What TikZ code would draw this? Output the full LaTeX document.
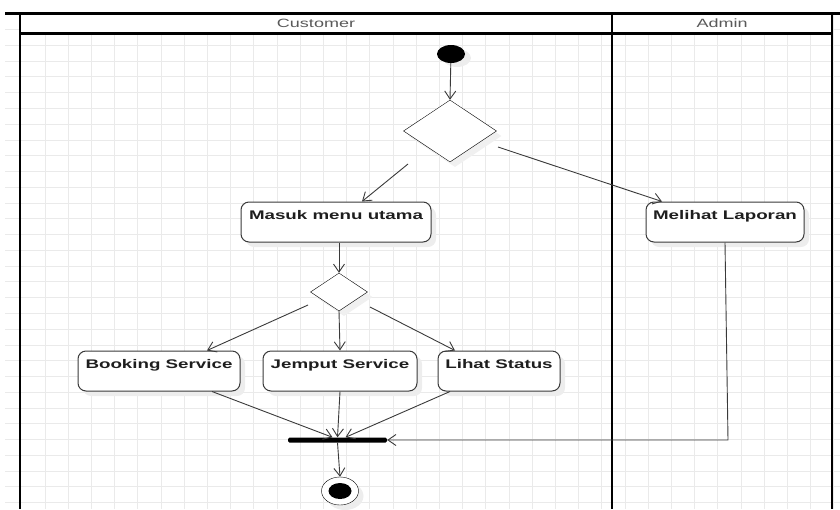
\documentclass[tikz,border=0pt]{standalone}
\usepackage{fontspec}
\newfontfamily\umlfont[FakeStretch=1.5]{Liberation Sans}
\usepackage{tikz}
\usetikzlibrary{positioning,shapes.geometric,shadows,arrows.meta}
\definecolor{gridgray}{HTML}{EAEAEA}
\definecolor{linegray}{HTML}{3A3A3A}
\definecolor{textgray}{HTML}{1E1E1E}

\begin{document}
\begin{tikzpicture}[x=1pt,y=-1pt,
			>={Straight Barb[length=8pt,width=11pt]},
			every node/.style={font=\umlfont\fontsize{12}{14}\selectfont},
			action/.style={draw=linegray, line width=1pt, fill=white, rounded corners=8pt, minimum height=40pt, text height=13pt, text depth=19pt, inner ysep=4pt, inner xsep=0pt, text=textgray, font=\umlfont\bfseries\fontsize{12.5}{14}\selectfont, general shadow={fill=black!7, shadow xshift=5pt, shadow yshift=-5pt}},
			decision/.style={diamond, draw=black, fill=white, inner sep=0pt, general shadow={fill=black!6, shadow xshift=5pt, shadow yshift=-5pt}},
			startnode/.style={ellipse, fill=black, inner sep=0pt, minimum width=28pt, minimum height=18pt, general shadow={fill=black!7, shadow xshift=6pt, shadow yshift=-4pt}},
			endouter/.style={ellipse, draw=black, fill=white, inner sep=0pt, minimum width=37pt, minimum height=28pt, general shadow={fill=black!7, shadow xshift=5pt, shadow yshift=-5pt}},
			endinner/.style={ellipse, fill=black, inner sep=0pt, minimum width=23pt, minimum height=16pt},
			joinbar/.style={rectangle, fill=black, rounded corners=1.5pt, inner sep=0pt, minimum width=99pt, minimum height=5pt},
			flow/.style={->, draw=linegray, line width=0.9pt},
			lane/.style={draw=black, line width=2.5pt},
			lanetitle/.style={text=black!65},
		]

			\useasboundingbox (0,0) rectangle (840,509);

			% background grid
			\foreach \gx in {0,...,34}
				\draw[gridgray, line width=0.8pt] ({45+23.2*\gx},14) -- ({45+23.2*\gx},509);
			\foreach \gy in {-1,...,29}
				\draw[gridgray, line width=0.8pt] (5,{45.3+15.77*\gy}) -- (840,{45.3+15.77*\gy});

			% swimlanes
			\fill[white] (20,13.5) rectangle (832,33.5);
			\draw[lane] (5,13.5) -- (840,13.5);
			\draw[lane] (20,33.5) -- (832,33.5);
			\draw[lane] (20,13.5) -- (20,509);
			\draw[lane] (612,13.5) -- (612,509);
			\draw[lane] (832,13.5) -- (832,509);
			\node[lanetitle] (custtitle) at (316,23.5) {Customer};
			\node[lanetitle] (admintitle) at (722,23.5) {Admin};

			\node[startnode] (start) at (451,54) {};
			\node[decision, minimum width=93pt, minimum height=62pt] (choose) at (450,131) {};
			\node[action, minimum width=190pt] (masuk) at (336,222) {Masuk menu utama};
			\node[action, minimum width=158pt] (laporan) at (725,222) {Melihat Laporan};
			\node[decision, minimum width=57pt, minimum height=38pt] (menu) at (339,292) {};
			\node[action, minimum width=162pt] (booking) at (159,371) {Booking Service};
			\node[action, minimum width=154pt] (jemput) at (340,371) {Jemput Service};
			\node[action, minimum width=122pt] (status) at (499,371) {Lihat Status};
			\node[joinbar] (join) at (337.5,440) {};
			\node[endouter] (finish) at (340,491) {};
			\node[endinner] (finishdot) at (finish.center) {};
			\coordinate (lapturn) at (728,440);

			\draw[flow] (start) -- (choose.north);
			\draw[flow] ([xshift=-42pt,yshift=-33pt]choose.center) -- ([xshift=26pt]masuk.north);
			\draw[flow] ([xshift=48pt,yshift=-16pt]choose.center) -- ([xshift=-63pt]laporan.north);
			\draw[flow] (menu.north |- masuk.south) -- (menu.north);
			\draw[flow] ([xshift=-31pt,yshift=-13pt]menu.center) -- ([xshift=48pt]booking.north);
			\draw[flow] (menu.south) -- (jemput.north);
			\draw[flow] ([xshift=31pt,yshift=-15pt]menu.center) -- ([xshift=-44pt]status.north);
			\draw[flow] ([xshift=53pt]booking.south) -- ([xshift=-5pt]join.north);
			\draw[flow] (jemput.south) -- (join.north);
			\draw[flow] ([xshift=-49pt]status.south) -- ([xshift=8pt]join.north);
			\draw[flow] (laporan.south) -- (lapturn) -- (join.east);
			\draw[flow] (join.south) -- (finish.north);

		\end{tikzpicture}
\end{document}
